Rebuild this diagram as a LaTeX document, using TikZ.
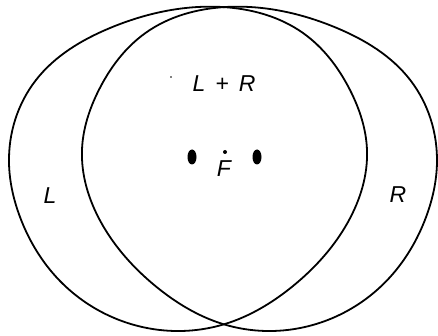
\documentclass[tikz,border=0pt]{standalone}
\usepackage{fontspec}
\setsansfont{Liberation Sans}
\usetikzlibrary{positioning,hobby}
\tikzset{
	lobe/.style={
		draw=black,
		line width=1.8pt,
		use Hobby shortcut,
		closed=true
	},
	lbl/.style={
		font=\sffamily\itshape\fontsize{23}{23}\selectfont,
		inner sep=0pt
	},
	mic/.style={fill=black}
}
\newcommand{\lobeshape}{%
	\draw[lobe] (9,163) .. (36,80) .. (110,28) .. (222,7) .. (303,33)
		.. (350,90) .. (367,150) .. (348,222) .. (293,286) .. (225,324)
		.. (160,330) .. (60,281) .. (20,217);}

\begin{document}
\begin{tikzpicture}[x=1pt, y=-1pt]
	\useasboundingbox (0,0) rectangle (438,336);
	% left pattern
	\lobeshape
	% right pattern, mirrored
	\begin{scope}[xshift=445.9pt, xscale=-0.9916]
		\lobeshape
	\end{scope}
	\node[lbl] (sum) at (224,84) {L\hspace{10pt}+\hspace{10pt}R};
	\node[lbl] (left) at (50,196) {L};
	\node[lbl] (right) at (398,195) {R};
	\node[lbl] (focus) at (224,169) {F};
	\fill[mic] (192,157) ellipse (4.5 and 7.5);
	\fill[mic] (257,157) ellipse (4.5 and 7.5);
	\fill (225,152) circle (2);
	\fill (171,77) circle (0.8);
\end{tikzpicture}
\end{document}
